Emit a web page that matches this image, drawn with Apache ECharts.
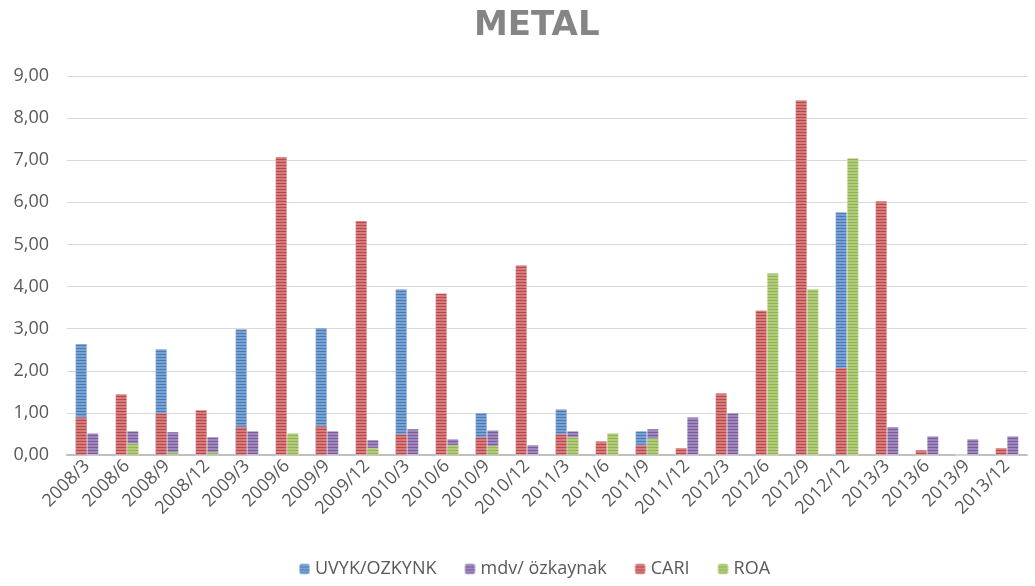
<!DOCTYPE html>
<html>
<head>
<meta charset="utf-8">
<title>METAL</title>
<script src="https://cdn.jsdelivr.net/npm/echarts@6/dist/echarts.min.js"></script>
<style>
  html, body { margin: 0; padding: 0; background: #ffffff; }
  #chart { width: 1035px; height: 586px; }
</style>
</head>
<body>
<div id="chart"></div>
<script>
const periods = [
  '2008/3', '2008/6', '2008/9', '2008/12', '2009/3', '2009/6', '2009/9', '2009/12',
  '2010/3', '2010/6', '2010/9', '2010/12', '2011/3', '2011/6', '2011/9', '2011/12',
  '2012/3', '2012/6', '2012/9', '2012/12', '2013/3', '2013/6', '2013/9', '2013/12'
]
const uvyk = [2.64, 0, 2.52, 0, 2.99, 0, 3.02, 0, 3.94, 0, 1.0, 0, 1.09, 0, 0.57, 0, 0, 0, 0, 5.77, 0, 0, 0, 0]
const mdv = [0.52, 0.57, 0.55, 0.43, 0.57, 0.45, 0.57, 0.36, 0.62, 0.38, 0.59, 0.24, 0.57, 0, 0.62, 0.90, 1.0, 0, 0, 0, 0.67, 0.45, 0.38, 0.45]
const cari = [0.90, 1.45, 1.0, 1.07, 0.67, 7.08, 0.69, 5.56, 0.50, 3.84, 0.43, 4.51, 0.50, 0.33, 0.24, 0.17, 1.47, 3.44, 8.43, 2.07, 6.03, 0.12, 0, 0.17]
const roa = [0, 0.28, 0.07, 0.07, 0, 0.52, 0, 0.17, 0, 0.24, 0.22, 0, 0.43, 0.52, 0.40, 0, 0, 4.32, 3.94, 7.05, 0, 0, 0, 0]

// Excel style "narrow horizontal" pattern fill
function stripes(dark, light) {
  const c = document.createElement('canvas')
  c.width = 4
  c.height = 3
  const ctx = c.getContext('2d')
  ctx.fillStyle = light
  ctx.fillRect(0, 0, 4, 3)
  ctx.fillStyle = dark
  ctx.fillRect(0, 0, 4, 1)
  return { image: c, repeat: 'repeat' }
}

const fills = {
  blue: stripes('#4a7cbc', '#7aa0d2'),
  purple: stripes('#7a5c9e', '#9e88bc'),
  red: stripes('#c0464a', '#d27c7b'),
  green: stripes('#92b450', '#b0cb7c')
}

function barSeries(name, data, fill, axis) {
  return {
    name,
    type: 'bar',
    xAxisIndex: axis,
    data,
    barGap: '0%',
    barCategoryGap: '42%',
    itemStyle: { color: fill, borderColor: 'rgba(255,255,255,0.45)', borderWidth: 0.5 },
    emphasis: { disabled: true }
  }
}

const chart = echarts.init(document.getElementById('chart'))

chart.setOption({
  animation: false,
  title: {
    text: 'METAL',
    left: 469,
    top: 4,
    textStyle: {
      color: '#858585',
      fontFamily: 'DejaVu Sans',
      fontWeight: 'bold',
      fontSize: 34
    }
  },
  legend: {
    bottom: 3,
    left: 293,
    itemWidth: 11,
    itemHeight: 11,
    itemGap: 27,
    textStyle: { color: '#595959', fontSize: 18, fontFamily: 'Open Sans' },
    data: ['UVYK/OZKYNK', 'mdv/ özkaynak', 'CARI', 'ROA']
  },
  grid: {
    left: 67,
    right: 8,
    top: 76,
    bottom: 131
  },
  xAxis: [
    {
      type: 'category',
      data: periods,
      axisTick: { show: false },
      axisLine: { lineStyle: { color: '#bfbfbf', width: 2 } },
      axisLabel: {
        rotate: 45,
        interval: 0,
        margin: 8,
        color: '#595959',
        fontSize: 18,
        fontFamily: 'Open Sans'
      }
    },
    {
      type: 'category',
      data: periods,
      position: 'bottom',
      show: false
    }
  ],
  yAxis: {
    type: 'value',
    min: 0,
    max: 9,
    interval: 1,
    axisLine: { show: false },
    axisTick: { show: false },
    splitLine: { lineStyle: { color: '#d9d9d9', width: 1 } },
    axisLabel: {
      margin: 18,
      color: '#595959',
      fontSize: 18,
      fontFamily: 'Open Sans',
      formatter: (v) => v.toFixed(2).replace('.', ',')
    }
  },
  series: [
    barSeries('UVYK/OZKYNK', uvyk, fills.blue, 0),
    barSeries('mdv/ özkaynak', mdv, fills.purple, 0),
    barSeries('CARI', cari, fills.red, 1),
    barSeries('ROA', roa, fills.green, 1)
  ]
})
</script>
</body>
</html>
